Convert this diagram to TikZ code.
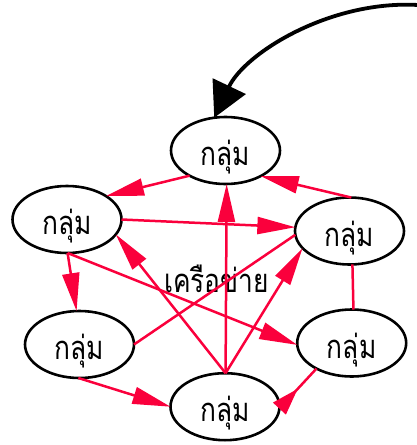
\documentclass[tikz,border=0pt]{standalone}
\usepackage{fontspec}
\usepackage{graphicx}
\newfontfamily\thaifont[Script=Thai]{Loma}
\usetikzlibrary{shapes.geometric,arrows.meta}
\definecolor{edgered}{RGB}{250,0,60}
\newcommand\thtxt[1]{\scalebox{0.94}[1.17]{#1}}
\tikzset{
  grp/.style={ellipse, draw=black, line width=2.6pt, minimum width=109pt, minimum height=67pt,
    inner sep=0pt, outer sep=0pt, text height=30pt, text depth=0pt,
    font=\thaifont\fontsize{28}{30}\selectfont},
  rline/.style={draw=edgered, line width=2.5pt},
  redge/.style={rline, -{Triangle[length=38pt,width=17pt]}, fill=edgered},
  rinv/.style={rline, -{Triangle[reversed,length=27pt,width=17pt]}, fill=edgered},
  bigarrow/.style={draw=black, line width=3.8pt, -{Triangle[length=35pt,width=36pt]}},
  lbl/.style={font=\thaifont\fontsize{28}{30}\selectfont, inner sep=0pt, anchor=base}
}
\begin{document}
\begin{tikzpicture}[x=1pt,y=-1pt]
\useasboundingbox (0,0) rectangle (416,445);
\node[grp] (T)  at (225.5,150.5) {\thtxt{กลุ่ม}};
\node[grp] (L)  at (67,219.5)    {\thtxt{กลุ่ม}};
\node[grp] (R)  at (349.5,231)   {\thtxt{กลุ่ม}};
\node[grp] (LL) at (79.5,344.5)  {\thtxt{กลุ่ม}};
\node[grp] (RL) at (351.7,343)   {\thtxt{กลุ่ม}};
\node[grp] (B)  at (225,406.7)   {\thtxt{กลุ่ม}};
\node[lbl] (net) at (216.5,292.5) {\thtxt{เครือข่าย}};
\coordinate (src) at (418,5);
\draw[bigarrow] (src) .. controls (330,0) and (245,53) .. (T.109);
\draw[redge] (T.215) -- (L.31);
\draw[redge] (R.87) -- (T.-36);
\draw[redge] (L.0) -- (R.176);
\draw[redge] (L.-89) -- (LL.95);
\draw[redge] (L.-89) -- (RL.182);
\draw[redge] (B.89) -- (L.-17);
\draw[redge] (B.89) -- (T.-88);
\draw[redge] (B.89) -- (R.200);
\draw[rline] (LL.0) -- (R.184);
\draw[rline] (R.-85) -- (RL.87);
\draw[redge] (LL.-92) -- (B.180);
\draw[rinv] (RL.216) -- (B.-2);
\end{tikzpicture}
\end{document}
